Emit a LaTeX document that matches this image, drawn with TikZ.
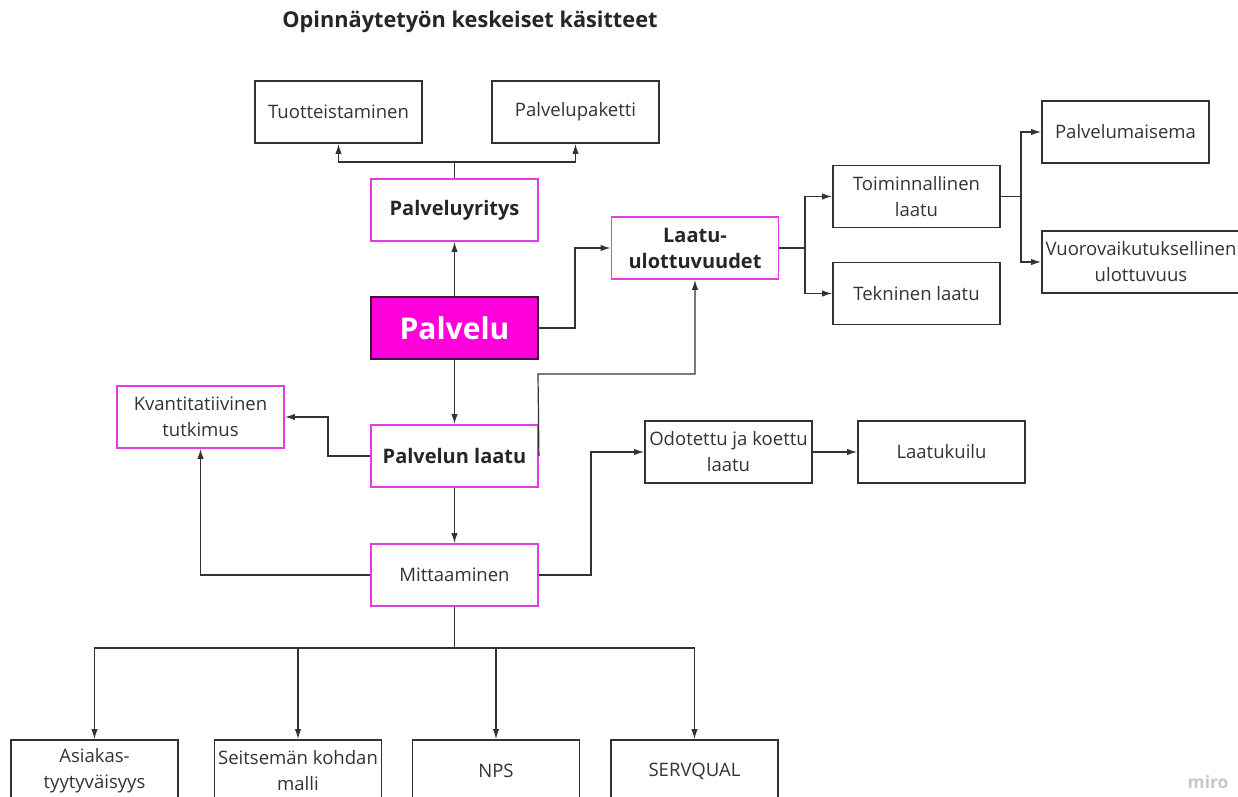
\documentclass[tikz,border=0pt]{standalone}
\usepackage{fontspec}
\setmainfont{Open Sans}
\usetikzlibrary{arrows.meta}
\definecolor{ink}{HTML}{333333}
\definecolor{magline}{HTML}{E23CE2}
\definecolor{magfill}{HTML}{FF00DA}
\definecolor{magdark}{HTML}{3A1538}
\begin{document}
\begin{tikzpicture}[x=0.75pt,y=-0.75pt,
  every node/.style={inner sep=0pt, align=center, text=ink},
  box/.style={draw=ink, line width=1.4pt, minimum width=125.25pt, minimum height=46.5pt,
    font=\fontsize{13.9}{19.5}\selectfont},
  magbox/.style={box, draw=magline},
  bold/.style={font=\fontsize{15}{19.5}\selectfont\bfseries, text=black!85},
  link/.style={draw=ink, line width=0.9pt},
  arr/.style={link, -{Latex[length=7.5pt,width=4.8pt]}}]
\useasboundingbox (0,0) rectangle (1238,796);
\clip (0,0) rectangle (1238,796);

% title
\node[font=\fontsize{16.3}{20}\selectfont\bfseries, text=black!85] (title) at (470,22) {Opinnäytetyön keskeiset käsitteet};

% upper branch
\node[box] (tu) at (338.5,112) {Tuotteistaminen};
\node[box] (pp) at (575.5,112) {Palvelupaketti};
\node[magbox, bold] (py) at (454.5,210) {Palveluyritys};

% core
\node[box, draw=magdark, fill=magfill, font=\fontsize{22.5}{26}\selectfont\bfseries, text=white] (pa) at (454.5,328) {Palvelu};
\node[magbox, bold] (la) at (695,248) {Laatu-\\ulottuvuudet};
\node[magbox, bold] (pl) at (454.5,456) {Palvelun laatu};
\node[magbox] (mi) at (454.5,575) {Mittaaminen};
\node[magbox] (kv) at (200.5,417) {Kvantitatiivinen\\tutkimus};

% quality dimensions
\node[box] (to) at (916.5,196.5) {Toiminnallinen\\laatu};
\node[box] (te) at (916.5,293.5) {Tekninen laatu};
\node[box] (pm) at (1125.5,132) {Palvelumaisema};
\node[box, minimum width=148.5pt] (vu) at (1141,262) {Vuorovaikutuksellinen\\ulottuvuus};

% gap model
\node[box] (od) at (728.5,452) {Odotettu ja koettu\\laatu};
\node[box] (lk) at (941.5,452) {Laatukuilu};

% measurement methods
\node[box] (b1) at (94.5,771) {Asiakas-\\tyytyväisyys};
\node[box] (b2) at (298,771) {Seitsemän kohdan\\malli};
\node[box] (b3) at (496,771) {NPS};
\node[box] (b4) at (694.5,771) {SERVQUAL};

\node[font=\fontsize{13}{15}\selectfont\bfseries, text=black!22] (miro) at (1208,782) {miro};

% junctions
\coordinate (j1) at (454.5,162);
\coordinate (j2) at (575,248);
\coordinate (j3) at (538,374);
\coordinate (j4) at (328,417);
\coordinate (j5) at (591,452);
\coordinate (j6) at (805,248);
\coordinate (j7) at (1021,196.5);
\coordinate (j8) at (454.5,648);

% connectors
\draw[link] (py.north) -- (j1);
\draw[arr] (j1) -| (tu.south);
\draw[arr] (j1) -| (pp.south);
\draw[arr] (pa.north) -- (py.south);
\draw[arr] (pa.east) -| (j2) -- (la.west);
\draw[arr] (pl.east) -- (j3) -| (la.south);
\draw[arr] (pa.south) -- (pl.north);
\draw[arr] (pl.west) -| (j4) -- (kv.east);
\draw[arr] (pl.south) -- (mi.north);
\draw[arr] (mi.west) -| (kv.south);
\draw[arr] (mi.east) -| (j5) -- (od.west);
\draw[arr] (od.east) -- (lk.west);
\draw[link] (la.east) -- (j6);
\draw[arr] (j6) |- (to.west);
\draw[arr] (j6) |- (te.west);
\draw[link] (to.east) -- (j7);
\draw[arr] (j7) |- (pm.west);
\draw[arr] (j7) |- (vu.west);
\draw[link] (mi.south) -- (j8);
\draw[arr] (j8) -| (b1.north);
\draw[arr] (j8) -| (b2.north);
\draw[arr] (j8) -| (b3.north);
\draw[arr] (j8) -| (b4.north);
\end{tikzpicture}
\end{document}
